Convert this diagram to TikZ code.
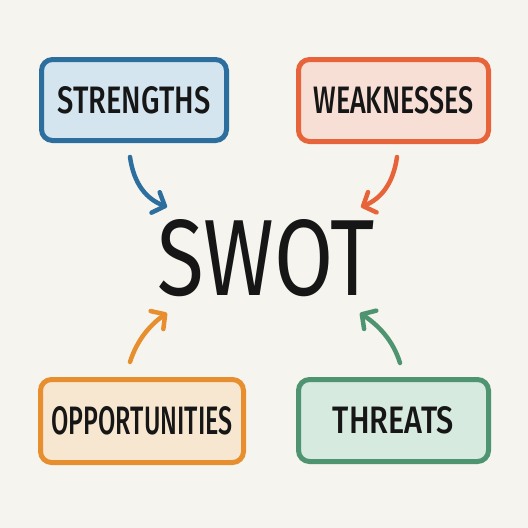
\documentclass[tikz,border=0pt]{standalone}
\usepackage{fontspec}
\setmainfont{Fira Sans}
\newfontfamily\medfont{Fira Sans Medium}
\usetikzlibrary{arrows.meta}
\definecolor{bg}{HTML}{F6F4EF}
\definecolor{ink}{HTML}{161616}
\definecolor{sline}{HTML}{2C6E9E}
\definecolor{sfill}{HTML}{D5E5EF}
\definecolor{wline}{HTML}{E7643A}
\definecolor{wfill}{HTML}{F8DFD5}
\definecolor{oline}{HTML}{E78E2F}
\definecolor{ofill}{HTML}{F8E7D0}
\definecolor{tline}{HTML}{4E9470}
\definecolor{tfill}{HTML}{D6EADF}
\tikzset{
  card/.style={draw, line width=5pt, rounded corners=11pt, inner sep=0pt, text=ink},
  conn/.style={line width=4.5pt, line cap=round, -{Straight Barb[length=10pt,width=22pt,line width=4.5pt,round]}},
}
\newcommand{\lbl}[3]{\resizebox{#1pt}{#2pt}{\medfont #3}}
\begin{document}
\begin{tikzpicture}[x=1pt,y=-1pt]
\fill[bg] (0,0) rectangle (528,528);
\useasboundingbox (0,0) rectangle (528,528);
\node[card, draw=sline, fill=sfill, minimum width=185pt, minimum height=81pt] (s) at (134,100) {\lbl{153}{27}{STRENGTHS}};
\node[card, draw=wline, fill=wfill, minimum width=190pt, minimum height=82pt] (w) at (393.5,100.5) {\lbl{160}{27}{WEAKNESSES}};
\node[card, draw=oline, fill=ofill, minimum width=203pt, minimum height=83pt] (o) at (142,421) {\lbl{181}{28}{OPPORTUNITIES}};
\node[card, draw=tline, fill=tfill, minimum width=190pt, minimum height=82pt] (t) at (393.5,420.5) {\lbl{121}{27}{THREATS}};
\node[inner sep=0pt, text=ink] (swot) at (266,258.5) {\resizebox{217pt}{76pt}{SWOT}};
\coordinate (s1) at (130,157);
\coordinate (s2) at (167,207);
\coordinate (w1) at (397,157);
\coordinate (w2) at (361,207);
\coordinate (o1) at (130,362);
\coordinate (o2) at (167,313);
\coordinate (t1) at (400,363);
\coordinate (t2) at (360,313);
\draw[conn, sline] (s1) .. controls (134,185) and (147,199) .. (s2);
\draw[conn, wline] (w1) .. controls (393,185) and (380,199) .. (w2);
\draw[conn, oline] (o1) .. controls (137,340) and (150,325) .. (o2);
\draw[conn, tline] (t1) .. controls (393,340) and (378,325) .. (t2);
\end{tikzpicture}
\end{document}
